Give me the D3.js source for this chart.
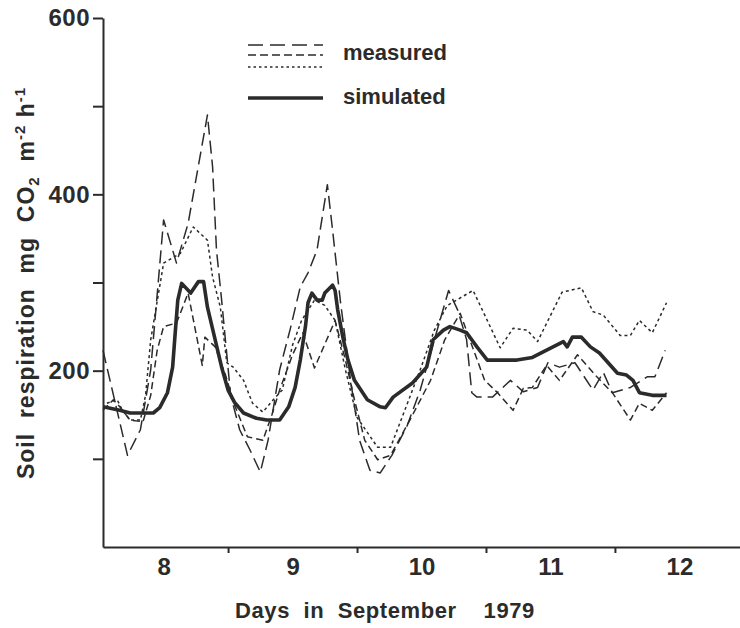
<!DOCTYPE html>
<html>
<head>
<meta charset="utf-8">
<script src="https://cdn.jsdelivr.net/npm/d3@7"></script>
<style>
  html, body { margin: 0; padding: 0; background: #fff; }
  svg { display: block; font-family: "Liberation Sans", Arial, sans-serif; }
</style>
</head>
<body>
<div id="chart"></div>
<script>
// Days in September 1979 (decimal day) and soil respiration (mg CO2 m-2 h-1)
const simulated = [
  [8.03,159],[8.16,155],[8.24,152],[8.42,152],[8.47,158],[8.53,175],[8.57,204],[8.59,243],[8.61,280],
  [8.64,299],[8.71,288],[8.77,301],[8.81,301],[8.84,272],[8.90,235],[8.95,204],[9.00,178],[9.05,164],
  [9.12,152],[9.22,146],[9.30,144],[9.40,144],[9.47,159],[9.52,181],[9.56,212],[9.60,250],[9.62,277],
  [9.65,288],[9.69,280],[9.73,280],[9.75,288],[9.81,297],[9.83,291],[9.85,269],[9.89,238],[9.93,212],
  [9.98,189],[10.08,167],[10.18,159],[10.22,158],[10.28,170],[10.43,186],[10.54,204],[10.59,235],
  [10.67,246],[10.72,250],[10.80,246],[10.85,243],[10.93,227],[11.01,212],[11.24,212],[11.36,215],
  [11.52,227],[11.60,233],[11.63,227],[11.67,238],[11.74,238],[11.81,227],[11.88,220],[12.02,197],
  [12.09,195],[12.14,189],[12.19,175],[12.29,172],[12.40,172]
];

const measuredLong = [
  [8.03,223],[8.22,104],[8.32,133],[8.40,201],[8.50,371],[8.60,322],[8.69,367],[8.84,490],[8.88,431],
  [8.91,337],[8.95,280],[9.02,172],[9.09,133],[9.17,110],[9.25,85],[9.31,121],[9.40,201],[9.48,246],
  [9.56,295],[9.62,311],[9.69,337],[9.77,411],[9.81,360],[9.87,280],[9.95,189],[10.02,121],[10.10,87],
  [10.18,84],[10.27,104],[10.39,138],[10.49,178],[10.60,235],[10.71,291],[10.78,269],[10.85,235],
  [10.89,175],[10.93,170],[11.05,170],[11.19,189],[11.29,176],[11.40,181],[11.48,209],[11.57,204],
  [11.69,209],[11.83,178],[11.91,198],[11.98,175],[12.12,181],[12.25,193],[12.31,193],[12.39,223]
];

const measuredMedium = [
  [8.03,155],[8.11,167],[8.16,159],[8.24,144],[8.34,142],[8.40,172],[8.45,223],[8.50,250],[8.60,254],
  [8.69,288],[8.80,206],[8.82,238],[8.90,227],[8.98,195],[9.05,161],[9.15,125],[9.27,121],[9.34,150],
  [9.40,178],[9.50,218],[9.58,243],[9.67,203],[9.83,257],[9.91,212],[9.98,167],[10.06,121],[10.16,99],
  [10.26,104],[10.41,144],[10.57,189],[10.68,235],[10.80,265],[10.99,189],[11.09,175],[11.21,155],
  [11.29,180],[11.36,181],[11.47,206],[11.57,189],[11.71,218],[11.86,193],[11.98,175],[12.12,144],
  [12.19,163],[12.29,155],[12.40,175]
];

const measuredDotted = [
  [8.06,163],[8.14,167],[8.18,155],[8.24,144],[8.32,144],[8.36,172],[8.40,235],[8.50,322],[8.63,333],
  [8.73,363],[8.84,348],[8.88,306],[8.94,272],[8.99,209],[9.04,204],[9.12,189],[9.19,163],[9.27,153],
  [9.35,167],[9.42,178],[9.50,229],[9.57,257],[9.67,280],[9.75,274],[9.83,257],[9.91,201],[10.00,147],
  [10.16,113],[10.26,113],[10.37,155],[10.49,201],[10.60,246],[10.70,274],[10.90,291],[11.11,226],
  [11.21,248],[11.32,246],[11.40,233],[11.59,289],[11.74,294],[11.83,267],[11.91,263],[12.04,240],
  [12.12,240],[12.19,257],[12.29,243],[12.40,277]
];

const yTicks = [100, 200, 300, 400, 500, 600];
const yLabelled = [200, 400, 600];
const dayBoundaries = [9, 10, 11, 12];
const dayLabels = [8, 9, 10, 11, 12];

const width = 740, height = 628;
const ink = '#2b2b2b';
const font = '"Liberation Sans", Arial, sans-serif';

const svg = d3.select('#chart').append('svg')
  .attr('width', width)
  .attr('height', height);

const x = d3.scaleLinear().domain([8.03, 12.97]).range([103, 740]);
const y = d3.scaleLinear().domain([0, 600]).range([547, 18]);

// y axis
const yAxis = svg.append('g')
  .attr('transform', `translate(${x(8.03)},0)`)
  .call(d3.axisLeft(y).tickValues(yTicks).tickSize(10).tickSizeOuter(0).tickPadding(3)
    .tickFormat(d => yLabelled.includes(d) ? d : ''));
yAxis.select('.domain').attr('stroke', ink).attr('stroke-width', 2);
yAxis.selectAll('.tick line').attr('stroke', ink).attr('stroke-width', 2);
yAxis.selectAll('.tick text')
  .attr('fill', ink).attr('font-size', 24).attr('font-weight', 'bold')
  .attr('font-family', font).attr('letter-spacing', 0.5);

// x axis: ticks at day boundaries
const xAxis = svg.append('g')
  .attr('transform', `translate(0,${y(0)})`)
  .call(d3.axisBottom(x).tickValues(dayBoundaries).tickSize(6).tickSizeOuter(0).tickFormat(''));
xAxis.select('.domain').attr('stroke', ink).attr('stroke-width', 2);
xAxis.selectAll('.tick line').attr('stroke', ink).attr('stroke-width', 2);

// x labels centred on each day
const xLab = svg.append('g')
  .attr('transform', `translate(0,${y(0)})`)
  .call(d3.axisBottom(x).tickValues(dayLabels.map(d => d + 0.5)).tickSize(0).tickPadding(11)
    .tickFormat(d => Math.floor(d)));
xLab.select('.domain').remove();
xLab.selectAll('.tick text')
  .attr('fill', ink).attr('font-size', 24).attr('font-weight', 'bold')
  .attr('font-family', font);

// axis titles
svg.append('text')
  .attr('x', 385).attr('y', 618)
  .attr('text-anchor', 'middle')
  .attr('fill', ink).attr('font-size', 22).attr('font-weight', 'bold')
  .attr('letter-spacing', 0.6)
  .style('white-space', 'pre')
  .text('Days  in  September    1979');

const yTitle = svg.append('text')
  .attr('transform', 'translate(34,283) rotate(-90)')
  .attr('text-anchor', 'middle')
  .attr('fill', ink).attr('font-size', 23).attr('font-weight', 'bold')
  .attr('letter-spacing', 1)
  .style('white-space', 'pre');
yTitle.append('tspan').text('Soil  respiration  mg  CO');
yTitle.append('tspan').attr('font-size', 15).attr('dy', 5).text('2');
yTitle.append('tspan').attr('dy', -5).text('  m');
yTitle.append('tspan').attr('font-size', 15).attr('dy', -9).text('-2');
yTitle.append('tspan').attr('dy', 9).text(' h');
yTitle.append('tspan').attr('font-size', 15).attr('dy', -9).text('-1');

// series
const line = d3.line().x(d => x(d[0])).y(d => y(d[1]));

const series = [
  { name: 'long', data: measuredLong, dash: '13,6', width: 1.5 },
  { name: 'medium', data: measuredMedium, dash: '7,4', width: 1.5 },
  { name: 'dotted', data: measuredDotted, dash: '3,3', width: 1.5 },
  { name: 'simulated', data: simulated, dash: null, width: 3.6 }
];

svg.append('g').selectAll('path')
  .data(series)
  .join('path')
  .attr('fill', 'none')
  .attr('stroke', ink)
  .attr('stroke-width', d => d.width)
  .attr('stroke-dasharray', d => d.dash)
  .attr('stroke-linejoin', 'round')
  .attr('d', d => line(d.data));

// legend
const legend = svg.append('g');
const legendRows = [
  { dash: '15,7', y: 45, width: 1.5 },
  { dash: '8,4', y: 55, width: 1.5 },
  { dash: '2.5,3', y: 67, width: 1.5 }
];
legend.selectAll('line.m')
  .data(legendRows)
  .join('line')
  .attr('class', 'm')
  .attr('x1', 248).attr('x2', 323)
  .attr('y1', d => d.y).attr('y2', d => d.y)
  .attr('stroke', ink)
  .attr('stroke-width', d => d.width)
  .attr('stroke-dasharray', d => d.dash);
legend.append('line')
  .attr('x1', 248).attr('x2', 323)
  .attr('y1', 98).attr('y2', 98)
  .attr('stroke', ink).attr('stroke-width', 3.6);
legend.append('text')
  .attr('x', 343).attr('y', 60)
  .attr('fill', ink).attr('font-size', 22).attr('font-weight', 'bold')
  .text('measured');
legend.append('text')
  .attr('x', 343).attr('y', 104)
  .attr('fill', ink).attr('font-size', 22).attr('font-weight', 'bold')
  .text('simulated');
</script>
</body>
</html>
